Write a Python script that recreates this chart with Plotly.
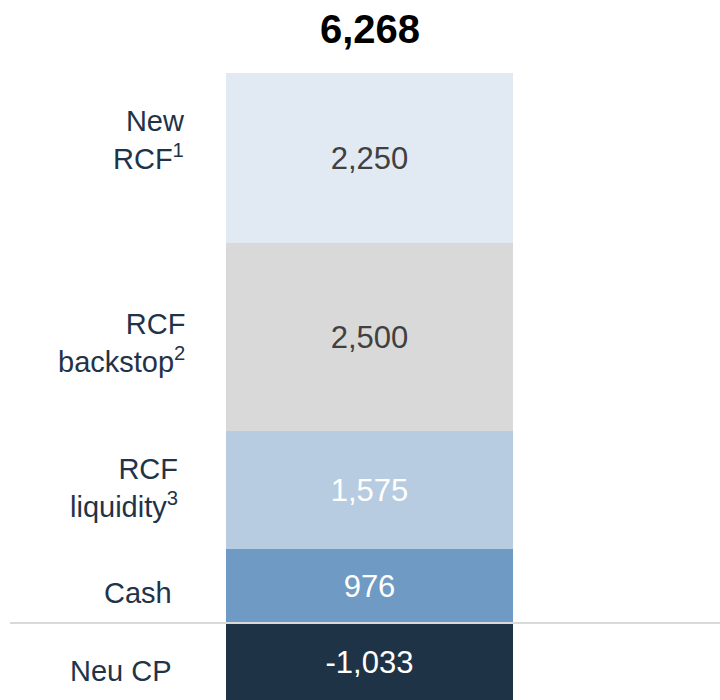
import plotly.graph_objects as go

# segments, bottom to top (negative one last)
labels = ["Cash", "RCF<br>liquidity<sup>3</sup>", "RCF<br>backstop<sup>2</sup>", "New<br>RCF<sup>1</sup>", "Neu CP"]
values = [976, 1575, 2500, 2250, -1033]

colors = ["#6f9ac4", "#b7cce1", "#d9d9d9", "#e1e9f3", "#1f3347"]
text_colors = ["white", "white", "#404040", "#404040", "white"]
label_shift_y = [-7, 2, -6, 18, -9]
label_shift_x = [-13, -7, 0, 0, -13]

navy = "#1f3349"
font = "Liberation Sans, Arial, sans-serif"

W, H = 720, 700

fig = go.Figure()
for lab, v, c, tc in zip(labels, values, colors, text_colors):
    fig.add_trace(go.Bar(
        x=[0], y=[v], width=1,
        marker=dict(color=c, line=dict(width=0)),
        text=[f"{v:,}"], textposition="inside", insidetextanchor="middle",
        textangle=0, textfont=dict(size=31, color=tc, family=font),
        showlegend=False, hoverinfo="skip",
    ))

# category labels on the left, at the middle of each segment
pos_base = 0
neg_base = 0
for lab, v, dy, dx in zip(labels, values, label_shift_y, label_shift_x):
    if v >= 0:
        mid = pos_base + v / 2
        pos_base += v
    else:
        mid = neg_base + v / 2
        neg_base += v
    fig.add_annotation(
        x=187 / W, xref="paper", y=mid, yref="y",
        text=lab, showarrow=False, xanchor="right", yanchor="middle",
        align="right", xshift=dx, yshift=dy,
        font=dict(size=29, color=navy, family=font),
    )

total = sum(values)
fig.add_annotation(
    x=0, y=pos_base, text=f"<b>{total:,}</b>", showarrow=False,
    yanchor="bottom", yshift=20,
    font=dict(size=40, color="black", family=font),
)

# zero line
fig.add_shape(type="line", xref="paper", yref="y", x0=10 / W, x1=1, y0=0, y1=0,
              line=dict(color="#d9d9d9", width=2), layer="above")

fig.update_layout(
    width=W, height=H,
    margin=dict(l=0, r=0, t=0, b=0),
    barmode="relative", bargap=0,
    paper_bgcolor="white", plot_bgcolor="white",
    xaxis=dict(range=[-1.2875, 1.2213], visible=False, fixedrange=True),
    yaxis=dict(range=[-1022, 8270], visible=False, fixedrange=True),
    font=dict(family=font),
)

# drop the default page margin so the figure fills the window
fig.write_html("out.html", config={"displayModeBar": False},
               post_script="document.body.style.margin='0';document.body.style.overflow='hidden';")
